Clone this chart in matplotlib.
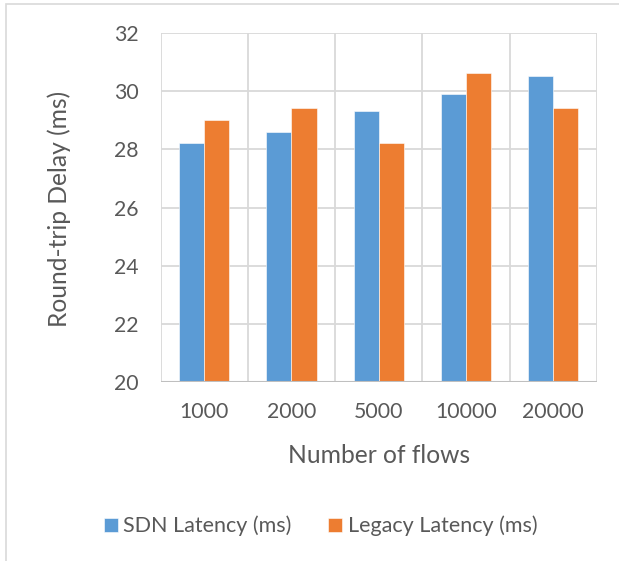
import numpy as np
import matplotlib.pyplot as plt
from matplotlib.patches import Rectangle

flows = ['1000', '2000', '5000', '10000', '20000']
sdn = [28.2, 28.6, 29.3, 29.9, 30.5]
legacy = [29.0, 29.4, 28.2, 30.6, 29.4]

plt.rcParams['font.family'] = ['Lato', 'DejaVu Sans']
txt = '#595959'
grid = '#d9d9d9'

W, H = 619, 561
fig = plt.figure(figsize=(W / 100, H / 100), dpi=100)
ax = fig.add_axes([0.2596, 0.3185, 0.7044, 0.6232])

x = np.arange(len(flows))
w = 0.287
ax.bar(x - w / 2, sdn, w, color='#5B9BD5', edgecolor='white', linewidth=0.4,
       label='SDN Latency (ms)', zorder=3)
ax.bar(x + w / 2, legacy, w, color='#ED7D31', edgecolor='white', linewidth=0.4,
       label='Legacy Latency (ms)', zorder=3)

ax.set_ylim(20, 32)
ax.set_xlim(-0.5, len(flows) - 0.5)
ax.set_yticks(range(20, 33, 2))
ax.set_xticks(x)
ax.set_xticklabels(flows)

# horizontal value gridlines and vertical category separators
for yv in range(22, 33, 2):
    ax.axhline(yv, color=grid, lw=1.3, zorder=1)
for xv in np.arange(-0.5, len(flows), 1.0):
    ax.axvline(xv, color=grid, lw=1.3, zorder=1)

for s in ax.spines.values():
    s.set_visible(False)
ax.axhline(20, color='#bfbfbf', lw=1.5, zorder=4)

ax.tick_params(length=0, labelsize=15.3, colors=txt)
ax.tick_params(axis='y', pad=16)
ax.tick_params(axis='x', pad=14)

fig.text(378.7 / W, 1 - 463 / H, 'Number of flows', fontsize=17.7, color=txt,
         ha='center', va='baseline')
fig.text(67 / W, 1 - 208.5 / H, 'Round-trip Delay (ms)', fontsize=17.7,
         color=txt, rotation=90, rotation_mode='anchor',
         ha='center', va='baseline')

fig.legend(loc='center', bbox_to_anchor=(320.5 / W, 1 - 526 / H), ncol=2,
           frameon=False, fontsize=15.5, labelcolor=txt, handlelength=0.65,
           handleheight=0.65, handletextpad=0.25, columnspacing=1.7,
           borderpad=0)

# chart area outline
fig.patches.append(Rectangle((6 / W, -0.1), 1.2, 1 - 3.7 / H + 0.1,
                             transform=fig.transFigure, fill=False,
                             edgecolor=grid, lw=1.2))

fig.savefig('out.png', dpi=100)
